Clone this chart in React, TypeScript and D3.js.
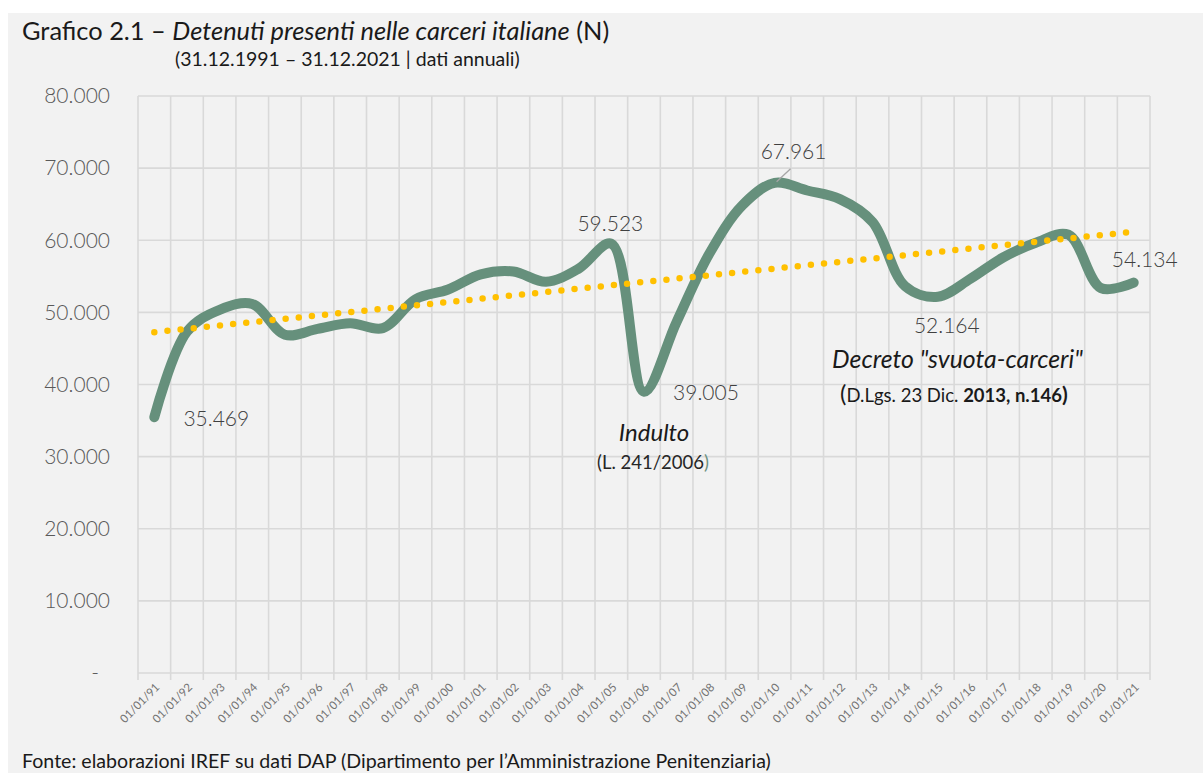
import React from "react";
import * as d3 from "d3";

const categories = [
  "01/01/91","01/01/92","01/01/93","01/01/94","01/01/95","01/01/96","01/01/97","01/01/98",
  "01/01/99","01/01/00","01/01/01","01/01/02","01/01/03","01/01/04","01/01/05","01/01/06",
  "01/01/07","01/01/08","01/01/09","01/01/10","01/01/11","01/01/12","01/01/13","01/01/14",
  "01/01/15","01/01/16","01/01/17","01/01/18","01/01/19","01/01/20","01/01/21",
];
const detenuti = [
  35469, 47316, 50348, 51165, 46908, 47709, 48495, 47811, 51814, 53165, 55275, 55670,
  54237, 56068, 59523, 39005, 48693, 58127, 64791, 67961, 66897, 65701, 62536, 53623,
  52164, 54653, 57608, 59655, 60769, 53364, 54134,
];
const yTicks = [0, 10000, 20000, 30000, 40000, 50000, 60000, 70000, 80000];
const labelledIdx = [0, 14, 15, 19, 24, 30];

// label offsets relative to the point (layout, not data)
const labelOffsets: Record<number, [number, number]> = {
  0: [62, 9],
  14: [-1, -13],
  15: [62, 8],
  19: [19, -24],
  24: [9, 36],
  30: [11, -16],
};

const FONT = "Lato, 'Open Sans', sans-serif";

export default function App() {
  const W = 1203, H = 773;
  const left = 138, right = 1150, top = 96, bottom = 673;

  const x = d3.scaleBand<string>().domain(categories).range([left, right]).paddingInner(0).paddingOuter(0);
  const cx = (i: number) => (x(categories[i]) as number) + x.bandwidth() / 2;
  const y = d3.scaleLinear().domain([0, 80000]).range([bottom, top]);

  const loc = d3.formatLocale({ decimal: ",", thousands: ".", grouping: [3], currency: ["", ""] });
  const fmt = loc.format(",d");

  const line = d3
    .line<number>()
    .x((_, i) => cx(i))
    .y((d) => y(d))
    .curve(d3.curveCatmullRom.alpha(0.5));

  // linear trend (least squares)
  const n = detenuti.length;
  const mx = d3.mean(detenuti.map((_, i) => i)) as number;
  const my = d3.mean(detenuti) as number;
  let sxy = 0, sxx = 0;
  detenuti.forEach((v, i) => { sxy += (i - mx) * (v - my); sxx += (i - mx) * (i - mx); });
  const slope = sxy / sxx;
  const icpt = my - slope * mx;
  const trend = [0, n - 1].map((i) => [cx(i), y(icpt + slope * i)] as [number, number]);

  const gridX = d3.range(categories.length + 1).map((i) => left + i * x.step());

  return (
    <svg width={W} height={H} style={{ position: "absolute", left: 0, top: 0 }} fontFamily={FONT}>
      <rect x={8} y={13} width={W - 8} height={H - 13} fill="#f2f2f2" />
      {/* grid */}
      <g stroke="#d9d9d9" strokeWidth={1.6}>
        {yTicks.map((t) => (
          <line key={"h" + t} x1={left} x2={right} y1={y(t)} y2={y(t)} />
        ))}
        {gridX.map((gx, i) => (
          <line key={"v" + i} x1={gx} x2={gx} y1={top} y2={bottom + 7} />
        ))}
      </g>
      {/* y labels */}
      <g fill="#595959" fontSize={21} fontWeight={300} textAnchor="end">
        {yTicks.map((t) => (
          <text key={"yl" + t} x={t === 0 ? 99 : 110} y={y(t)} dy="0.35em">
            {t === 0 ? "-" : fmt(t)}
          </text>
        ))}
      </g>
      {/* x labels */}
      <g fill="#737373" fontSize={11.5} textAnchor="end">
        {categories.map((c, i) => (
          <text key={c} transform={`translate(${cx(i) + 6},${688}) rotate(-45)`}>
            {c}
          </text>
        ))}
      </g>
      {/* series */}
      <path d={line(detenuti) || ""} fill="none" stroke="#66907c" strokeWidth={10} strokeLinecap="round" strokeLinejoin="round" />
      {/* trend */}
      <line
        x1={trend[0][0]} y1={trend[0][1]} x2={trend[1][0]} y2={trend[1][1]}
        stroke="#ffc000" strokeWidth={6.5} strokeLinecap="round" strokeDasharray="0 13.2"
      />
      {/* data labels */}
      <g fill="#404040" fontSize={21} fontWeight={300} textAnchor="middle">
        {labelledIdx.map((i) => (
          <text key={"dl" + i} x={cx(i) + labelOffsets[i][0]} y={y(detenuti[i]) + labelOffsets[i][1]}>
            {fmt(detenuti[i])}
          </text>
        ))}
      </g>
      <line x1={cx(19) + 16} y1={y(detenuti[19]) - 14} x2={cx(19) + 2} y2={y(detenuti[19]) - 1} stroke="#a6a6a6" strokeWidth={1.3} />
      {/* annotations */}
      <text x={654} y={441} fontSize={24} fontStyle="italic" fill="#1a1a1a" textAnchor="middle">Indulto</text>
      <text x={653} y={469} fontSize={18.5} fill="#262626" textAnchor="middle">
        (L. 241/2006<tspan fill="#6b9080">)</tspan>
      </text>
      <text x={957.5} y={368} fontSize={24.8} fontStyle="italic" fill="#1a1a1a" textAnchor="middle">Decreto "svuota-carceri"</text>
      <text x={840} y={402} fill="#1a1a1a">
        <tspan fontSize={24}>(</tspan>
        <tspan fontSize={18.5}>D.Lgs. 23 Dic. </tspan>
        <tspan fontSize={18.5} fontWeight="bold">2013, n.146</tspan>
        <tspan fontSize={21} fontWeight="bold">)</tspan>
      </text>
      {/* titles */}
      <text x={22} y={40} fontSize={25.4} fill="#1a1a1a">
        Grafico 2.1 – <tspan fontStyle="italic">Detenuti presenti nelle carceri italiane</tspan> (N)
      </text>
      <text x={175} y={66} fontSize={19.5} fill="#1a1a1a">(31.12.1991 – 31.12.2021 | dati annuali)</text>
      <text x={22} y={768} fontSize={19.6} fill="#1a1a1a">
        Fonte: elaborazioni IREF su dati DAP (Dipartimento per l’Amministrazione Penitenziaria)
      </text>
    </svg>
  );
}
